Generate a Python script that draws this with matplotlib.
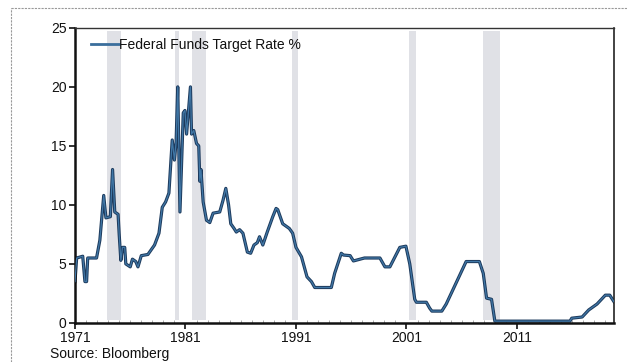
import numpy as np
import matplotlib.pyplot as plt
from matplotlib.lines import Line2D

# Federal funds target rate, read as (decimal year, percent)
years = [1971.0, 1971.15, 1971.7, 1971.9, 1972.05, 1972.15, 1972.95, 1973.25,
         1973.6, 1973.8, 1974.2, 1974.4, 1974.6, 1974.9, 1975.0, 1975.15,
         1975.3, 1975.5, 1975.6, 1976.0, 1976.2, 1976.5, 1976.7, 1977.0,
         1977.6, 1978.2, 1978.6, 1978.9, 1979.2, 1979.5, 1979.8, 1980.0,
         1980.15, 1980.3, 1980.5, 1980.8, 1980.95, 1981.1, 1981.45, 1981.55,
         1981.75, 1982.0, 1982.2, 1982.3, 1982.4, 1982.6, 1982.9, 1983.2,
         1983.5, 1984.1, 1984.4, 1984.65, 1984.9, 1985.1, 1985.4, 1985.6,
         1985.9, 1986.2, 1986.6, 1986.9, 1987.2, 1987.5, 1987.7, 1988.0,
         1988.4, 1988.9, 1989.2, 1989.35, 1989.8, 1990.4, 1990.7, 1991.0,
         1991.5, 1992.0, 1992.4, 1992.7, 1994.2, 1994.5, 1995.1, 1995.3,
         1995.9, 1996.2, 1997.2, 1998.6, 1999.05, 1999.5, 1999.8, 2000.4,
         2000.95, 2001.3, 2001.75, 2001.9, 2002.8, 2003.1, 2003.3, 2004.2,
         2004.6, 2006.4, 2007.6, 2007.95, 2008.25, 2008.7, 2009.0, 2015.8,
         2015.96, 2016.9, 2017.1, 2017.5, 2018.25, 2019.0, 2019.4, 2019.78]
rate = [3.5, 5.5, 5.65, 3.5, 3.5, 5.5, 5.5, 7.0,
        10.8, 8.9, 9.0, 13.0, 9.4, 9.2, 7.5, 5.3,
        6.4, 6.4, 5.0, 4.75, 5.4, 5.2, 4.75, 5.7,
        5.8, 6.6, 7.6, 9.8, 10.25, 11.0, 15.5, 13.8,
        15.3, 20.0, 9.4, 17.8, 18.0, 16.0, 20.0, 16.0,
        16.3, 15.2, 15.0, 12.0, 13.0, 10.25, 8.7, 8.5,
        9.3, 9.4, 10.4, 11.4, 10.0, 8.4, 8.0, 7.7,
        7.9, 7.6, 6.0, 5.9, 6.6, 6.8, 7.3, 6.6,
        7.7, 9.0, 9.7, 9.6, 8.4, 8.0, 7.6, 6.4,
        5.6, 3.9, 3.5, 3.0, 3.0, 4.2, 5.9, 5.75,
        5.7, 5.25, 5.5, 5.5, 4.75, 4.75, 5.3, 6.4,
        6.5, 5.0, 2.0, 1.75, 1.75, 1.25, 1.0, 1.0,
        1.6, 5.2, 5.2, 4.2, 2.1, 2.0, 0.15, 0.15,
        0.4, 0.5, 0.7, 1.1, 1.6, 2.35, 2.35, 1.8]

# US recessions (start, end)
rec_start = [1973.9, 1980.05, 1981.55, 1990.6, 2001.25, 2007.95]
rec_end = [1975.2, 1980.4, 1982.85, 1991.15, 2001.9, 2009.45]

plt.rcParams['font.family'] = ['Liberation Sans', 'DejaVu Sans']

fig = plt.figure(figsize=(6.27, 3.62), dpi=100)
ax = fig.add_axes([0.1196, 0.108, 0.8596, 0.815])

for s, e in zip(rec_start, rec_end):
    ax.axvspan(s, e, ymin=0.01, ymax=0.99, color='#e0e1e6', lw=0, zorder=0)

# dark outline under a lighter core
ax.plot(years, rate, color='#1d3a5c', lw=2.3, solid_joinstyle='round', zorder=2)
ax.plot(years, rate, color='#4077a6', lw=0.9, solid_joinstyle='round', zorder=3)

ax.set_xlim(1971, 2019.78)
ax.set_ylim(0, 25)
ax.set_xticks([1971, 1981, 1991, 2001, 2011])
ax.set_yticks([0, 5, 10, 15, 20, 25])
ax.set_xticks(np.arange(1972, 2020), minor=True)
ax.tick_params(axis='both', which='major', direction='out', length=4, width=1.2,
               labelsize=10, colors='#111111', pad=2)
ax.tick_params(axis='x', which='minor', direction='in', length=2, width=0.5, colors='#888888')

for side in ['left', 'bottom']:
    ax.spines[side].set_linewidth(1.8)
    ax.spines[side].set_color('#111111')
ax.spines['right'].set_linewidth(1.2)
ax.spines['right'].set_color('#222222')
ax.spines['top'].set_linewidth(1.0)
ax.spines['top'].set_color('#333333')

handle = Line2D([], [], color='#3a6e9c', lw=2)
leg = ax.legend([handle], ['Federal Funds Target Rate %'], loc='upper left',
                bbox_to_anchor=(0.012, 1.0), frameon=False, fontsize=10,
                handlelength=2.0, handletextpad=0.0, borderaxespad=0.3)
for t in leg.get_texts():
    t.set_color('#111111')

fig.text(0.08, 1 - 354 / 362, 'Source: Bloomberg', fontsize=10, color='#111111',
         va='center')

# faint dashed page border
fig.add_artist(Line2D([0.018, 1.0], [0.978, 0.978], transform=fig.transFigure,
                      color='#999999', lw=0.8, ls=(0, (2, 1))))
fig.add_artist(Line2D([0.018, 0.018], [0.0, 0.978], transform=fig.transFigure,
                      color='#999999', lw=0.8, ls=(0, (2, 1))))

fig.savefig('out.png', dpi=100)
